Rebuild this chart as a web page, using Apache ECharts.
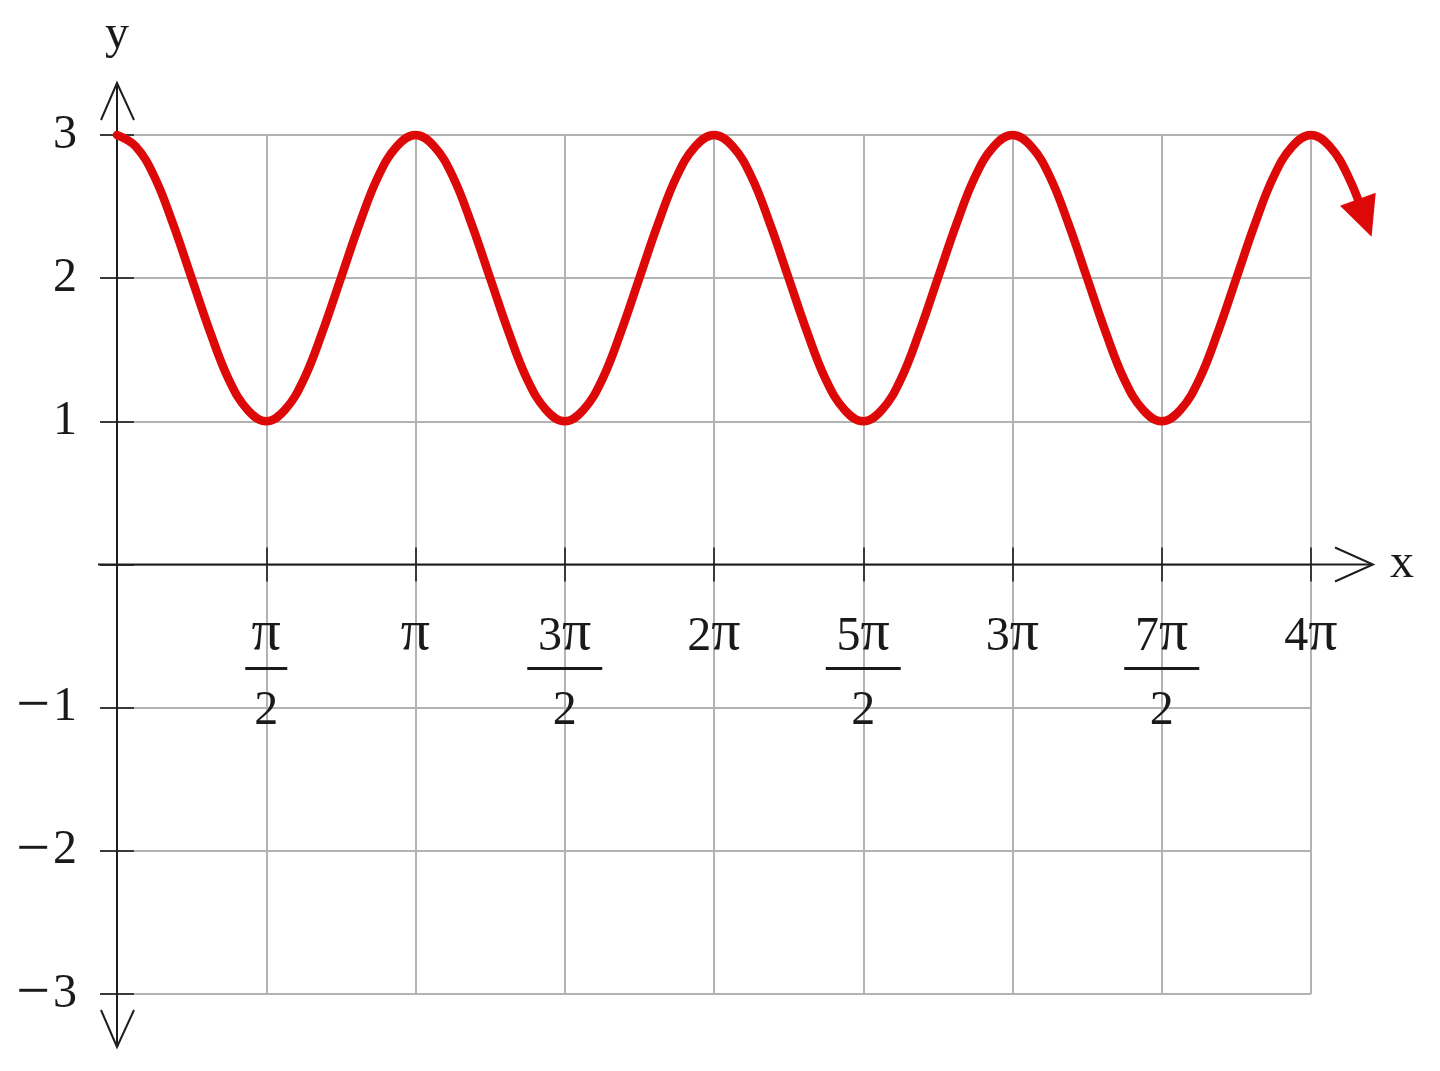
<!DOCTYPE html>
<html>
<head>
<meta charset="utf-8">
<script src="https://cdn.jsdelivr.net/npm/echarts@6/dist/echarts.min.js"></script>
<style>
html,body{margin:0;padding:0;background:#fff;}
#chart{width:1440px;height:1071px;}
</style>
</head>
<body>
<div id="chart"></div>
<script>
// x in multiples of pi, y = value
var xValues = [
  0, 0.0625, 0.125, 0.1875, 0.25, 0.3125, 0.375, 0.4375,
  0.5, 0.5625, 0.625, 0.6875, 0.75, 0.8125, 0.875, 0.9375,
  1, 1.0625, 1.125, 1.1875, 1.25, 1.3125, 1.375, 1.4375,
  1.5, 1.5625, 1.625, 1.6875, 1.75, 1.8125, 1.875, 1.9375,
  2, 2.0625, 2.125, 2.1875, 2.25, 2.3125, 2.375, 2.4375,
  2.5, 2.5625, 2.625, 2.6875, 2.75, 2.8125, 2.875, 2.9375,
  3, 3.0625, 3.125, 3.1875, 3.25, 3.3125, 3.375, 3.4375,
  3.5, 3.5625, 3.625, 3.6875, 3.75, 3.8125, 3.875, 3.9375,
  4, 4.0625, 4.125, 4.18
];
var yValues = [
  3, 2.92, 2.71, 2.38, 2, 1.62, 1.29, 1.08,
  1, 1.08, 1.29, 1.62, 2, 2.38, 2.71, 2.92,
  3, 2.92, 2.71, 2.38, 2, 1.62, 1.29, 1.08,
  1, 1.08, 1.29, 1.62, 2, 2.38, 2.71, 2.92,
  3, 2.92, 2.71, 2.38, 2, 1.62, 1.29, 1.08,
  1, 1.08, 1.29, 1.62, 2, 2.38, 2.71, 2.92,
  3, 2.92, 2.71, 2.38, 2, 1.62, 1.29, 1.08,
  1, 1.08, 1.29, 1.62, 2, 2.38, 2.71, 2.92,
  3, 2.92, 2.71, 2.42
];
// tick label parts for x = 0, π/2, π, ... 4π
var xCoefficients = ['', '',  '',  '3', '2', '5', '3', '7', '4'];
var xHasPi        = [false, true, true, true, true, true, true, true, true];
var xDenominators = ['', '2', '',  '2',  '',   '2',  '',   '2',  ''];
var yTickLabels = {'-3':'−3','-2':'−2','-1':'−1','0':'','1':'1','2':'2','3':'3'};

var FONT = "'Liberation Serif','DejaVu Serif',serif";
var TXT = '#1a1a1a';
var GRIDC = '#b3b3b3';
var TICKC = '#3a3a3a';
var RED = '#dd0808';
var FS = 48;

// layout of the plotting area
var L = 117, T = 135, W = 1194, H = 859;
var X_MAX = 4, X_CURVE_MAX = 4.25;
var gridMain  = {left: L, top: T, width: W, height: H};
var gridCurve = {left: L, top: T, width: W * X_CURVE_MAX / X_MAX, height: H};
var gridUpper = {left: L, top: T, width: W, height: H / 2};

var data = xValues.map(function (x, i) {
  if (i === xValues.length - 1) {
    return {value: [x, yValues[i]], symbol: 'triangle', symbolSize: [38, 40], symbolRotate: -160,
            itemStyle: {color: RED}};
  }
  return [x, yValues[i]];
});

function hiddenAxis(extra) {
  var a = {type: 'value', axisLine: {show: false}, axisTick: {show: false},
           axisLabel: {show: false}, splitLine: {show: false}};
  for (var k in extra) a[k] = extra[k];
  return a;
}

var chart = echarts.init(document.getElementById('chart'));
var option = {
  animation: false,
  backgroundColor: '#fff',
  grid: [
    Object.assign({containLabel: false, outerBoundsMode: 'none'}, gridMain),
    Object.assign({containLabel: false, outerBoundsMode: 'none'}, gridCurve),
    Object.assign({containLabel: false, outerBoundsMode: 'none'}, gridUpper)
  ],
  xAxis: [
    // grid lines
    {
      type: 'value', gridIndex: 0, min: 0, max: X_MAX, interval: 0.5,
      axisLine: {show: false}, axisTick: {show: false}, axisLabel: {show: false},
      splitLine: {show: true, lineStyle: {color: GRIDC, width: 2}}
    },
    // curve scale
    hiddenAxis({gridIndex: 1, min: 0, max: X_CURVE_MAX}),
    // tick labels + lower ticks (its bottom edge is y = 0)
    {
      type: 'value', gridIndex: 2, min: 0, max: X_MAX, interval: 0.5, position: 'bottom',
      name: 'x', nameLocation: 'end', nameGap: 79,
      nameTextStyle: {fontFamily: FONT, fontSize: FS, color: TXT, verticalAlign: 'middle'},
      axisLine: {show: false},
      axisTick: {show: true, length: 17, lineStyle: {color: TICKC, width: 2}},
      splitLine: {show: false},
      axisLabel: {
        show: true, margin: 49, interval: 0,
        formatter: function (v) {
          var i = Math.round(v * 2);
          if (!xHasPi[i]) return '';
          var c = xCoefficients[i], d = xDenominators[i];
          var top = (c ? '{n|' + c + '}' : '') + '{p|π}';
          if (d) return top + '\n{' + (c ? 'b2' : 'b1') + '| }\n{d|' + d + '}';
          return top;
        },
        rich: {
          n: {fontFamily: FONT, fontSize: FS, lineHeight: 48, color: TXT},
          p: {fontFamily: FONT, fontSize: 58, lineHeight: 48, color: TXT, padding: [0, 0, 7, 0]},
          b1: {width: 42, height: 3, lineHeight: 14, fontSize: 1, backgroundColor: TXT},
          b2: {width: 75, height: 3, lineHeight: 14, fontSize: 1, backgroundColor: TXT},
          d: {fontFamily: FONT, fontSize: FS, lineHeight: 72, color: TXT}
        }
      }
    },
    // upper ticks
    {
      type: 'value', gridIndex: 2, min: 0, max: X_MAX, interval: 0.5, position: 'bottom',
      axisLine: {show: false},
      axisTick: {show: true, inside: true, length: 17, lineStyle: {color: TICKC, width: 2}},
      splitLine: {show: false}, axisLabel: {show: false}
    }
  ],
  yAxis: [
    {
      type: 'value', gridIndex: 0, min: -3, max: 3, interval: 1, position: 'left',
      name: 'y', nameLocation: 'end', nameGap: 76,
      nameTextStyle: {fontFamily: FONT, fontSize: FS, color: TXT, align: 'center'},
      axisLine: {show: false},
      axisTick: {show: true, length: 17, lineStyle: {color: TICKC, width: 2}},
      splitLine: {show: true, lineStyle: {color: GRIDC, width: 2}},
      axisLabel: {
        show: true, margin: 40, color: TXT,
        formatter: function (v) {
          var s = yTickLabels[String(Math.round(v))];
          if (!s) return '';
          if (s.charAt(0) === '−') return '{m|−}{v|' + s.slice(1) + '}';
          return '{v|' + s + '}';
        },
        rich: {
          m: {fontFamily: FONT, fontSize: 60, lineHeight: 48, color: TXT, padding: [0, 3, 0, 0]},
          v: {fontFamily: FONT, fontSize: FS, lineHeight: 48, color: TXT}
        }
      }
    },
    {
      type: 'value', gridIndex: 0, min: -3, max: 3, interval: 1, position: 'left',
      axisLine: {show: false},
      axisTick: {show: true, inside: true, length: 17, lineStyle: {color: TICKC, width: 2}},
      splitLine: {show: false}, axisLabel: {show: false}
    },
    hiddenAxis({gridIndex: 1, min: -3, max: 3}),
    hiddenAxis({gridIndex: 2, min: 0, max: 3})
  ],
  series: [{
    type: 'line',
    xAxisIndex: 1, yAxisIndex: 2,
    data: data,
    smooth: 0.4,
    clip: false,
    showSymbol: true,
    symbol: 'none',
    silent: true,
    z: 5,
    lineStyle: {color: RED, width: 8.5, cap: 'round'},
    itemStyle: {color: RED}
  }]
};
chart.setOption(option);

var o = chart.convertToPixel({xAxisIndex: 0, yAxisIndex: 0}, [0, 0]);
var e = chart.convertToPixel({xAxisIndex: 0, yAxisIndex: 0}, [4, 3]);
var b = chart.convertToPixel({xAxisIndex: 0, yAxisIndex: 0}, [4, -3]);
var axisStyle = {stroke: '#1e1e1e', lineWidth: 2, fill: null};
chart.setOption({
  graphic: [
    {type: 'line', z: 3, shape: {x1: o[0] - 19, y1: o[1], x2: e[0] + 61, y2: o[1]}, style: axisStyle},
    {type: 'polyline', z: 3, shape: {points: [[e[0] + 24, o[1] - 17], [e[0] + 62, o[1]], [e[0] + 24, o[1] + 17]]}, style: axisStyle},
    {type: 'line', z: 3, shape: {x1: o[0], y1: e[1] - 51, x2: o[0], y2: b[1] + 52}, style: axisStyle},
    {type: 'polyline', z: 3, shape: {points: [[o[0] - 16, e[1] - 15], [o[0], e[1] - 52], [o[0] + 17, e[1] - 15]]}, style: axisStyle},
    {type: 'polyline', z: 3, shape: {points: [[o[0] - 16, b[1] + 16], [o[0], b[1] + 53], [o[0] + 17, b[1] + 16]]}, style: axisStyle}
  ]
});
</script>
</body>
</html>
